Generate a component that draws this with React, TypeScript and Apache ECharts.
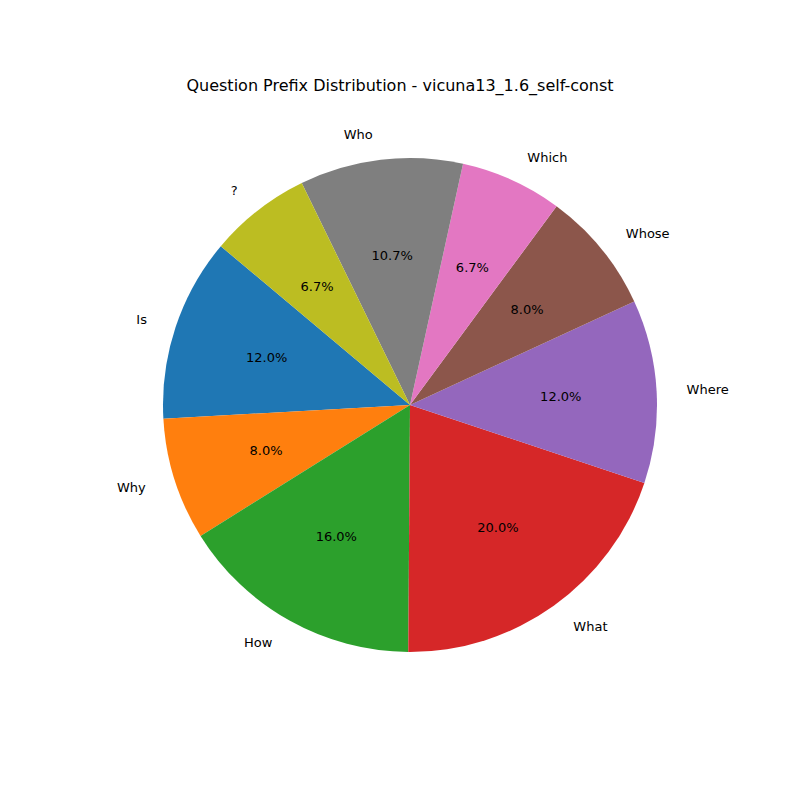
import React, { useEffect, useRef } from "react";
import * as echarts from "echarts";

const categories = ["Is", "Why", "How", "What", "Where", "Whose", "Which", "Who", "?"];
const counts = [9, 6, 12, 15, 9, 6, 5, 8, 5];
const colors = ["#1f77b4", "#ff7f0e", "#2ca02c", "#d62728", "#9467bd", "#8c564b", "#e377c2", "#7f7f7f", "#bcbd22"];
const title = "Question Prefix Distribution - vicuna13_1.6_self-const";

export default function App() {
  const ref = useRef<HTMLDivElement>(null);
  useEffect(() => {
    document.body.style.margin = "0";
    const chart = echarts.init(ref.current!, null, { renderer: "svg" });
    const total = counts.reduce((a, b) => a + b, 0);
    const font = "DejaVu Sans";
    chart.setOption({
      animation: false,
      title: {
        text: title,
        left: "center",
        top: 72,
        textStyle: { fontFamily: font, fontSize: 16, fontWeight: "normal", color: "#000" },
      },
      series: [
        {
          type: "pie",
          center: [410, 405],
          radius: [0, 247],
          startAngle: 140,
          clockwise: false,
          silent: true,
          itemStyle: { borderWidth: 0 },
          label: {
            show: true,
            position: "outside",
            fontFamily: font,
            fontSize: 13,
            color: "#000",
            formatter: "{b}",
          },
          labelLine: { show: false, length: 25, length2: 0 },
          data: categories.map((c, i) => ({ name: c, value: counts[i], itemStyle: { color: colors[i] } })),
        },
        {
          type: "pie",
          center: [410, 405],
          radius: [0, 296],
          startAngle: 140,
          clockwise: false,
          silent: true,
          z: 5,
          itemStyle: { color: "transparent", borderWidth: 0 },
          label: {
            show: true,
            position: "inside",
            fontFamily: font,
            fontSize: 13,
            color: "#000",
            formatter: (p: any) => ((p.value / total) * 100).toFixed(1) + "%",
          },
          labelLine: { show: false },
          data: categories.map((c, i) => ({ name: c, value: counts[i] })),
        },
      ],
    });
    return () => chart.dispose();
  }, []);
  return <div ref={ref} style={{ width: 800, height: 800, background: "#fff" }} />;
}
